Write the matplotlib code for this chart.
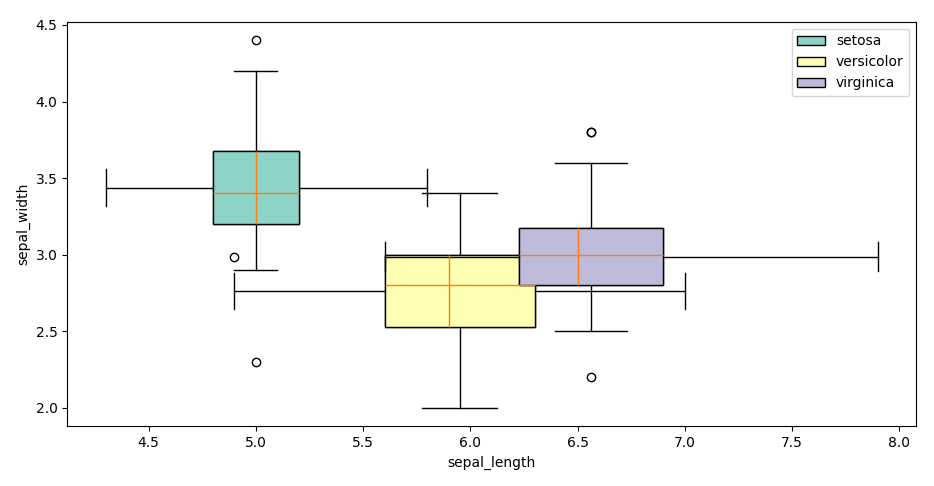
import matplotlib
matplotlib.use("Agg")
import matplotlib.pyplot as plt
from matplotlib.patches import Patch

# iris summary statistics per species
species = ['setosa', 'versicolor', 'virginica']
colors = ['#8dd3c7', '#ffffb3', '#bebada']

# sepal_length (x direction)
len_q1 = [4.8, 5.6, 6.225]
len_med = [5.0, 5.9, 6.5]
len_q3 = [5.2, 6.3, 6.9]
len_lo = [4.3, 4.9, 5.6]
len_hi = [5.8, 7.0, 7.9]
len_fliers = [[], [], [4.9]]

# sepal_width (y direction)
wid_q1 = [3.2, 2.525, 2.8]
wid_med = [3.4, 2.8, 3.0]
wid_q3 = [3.675, 3.0, 3.175]
wid_lo = [2.9, 2.0, 2.5]
wid_hi = [4.2, 3.4, 3.6]
wid_fliers = [[4.4, 2.3], [], [2.2, 3.8, 3.8]]

fig, ax = plt.subplots(figsize=(9.34, 4.86), dpi=100)
fig.subplots_adjust(left=0.072, right=0.981, top=0.955, bottom=0.123)

for i, name in enumerate(species):
    # box centre = middle of each IQR
    xc = (len_q1[i] + len_q3[i]) / 2
    yc = (wid_q1[i] + wid_q3[i]) / 2

    # vertical box: sepal_width
    ystats = [dict(q1=wid_q1[i], med=wid_med[i], q3=wid_q3[i],
                   whislo=wid_lo[i], whishi=wid_hi[i], fliers=wid_fliers[i])]
    ax.bxp(ystats, positions=[xc], widths=[len_q3[i] - len_q1[i]],
           patch_artist=True, manage_ticks=False,
           boxprops=dict(facecolor=colors[i], edgecolor='k'))

    # horizontal box: sepal_length
    xstats = [dict(q1=len_q1[i], med=len_med[i], q3=len_q3[i],
                   whislo=len_lo[i], whishi=len_hi[i], fliers=len_fliers[i])]
    ax.bxp(xstats, positions=[yc], widths=[wid_q3[i] - wid_q1[i]],
           orientation='horizontal', patch_artist=True, manage_ticks=False,
           boxprops=dict(facecolor=colors[i], edgecolor='k'))

ax.autoscale()
handles = [Patch(facecolor=c, edgecolor='k', label=s) for s, c in zip(species, colors)]
ax.legend(handles=handles, loc='upper right')
ax.set_xlabel('sepal_length')
ax.set_ylabel('sepal_width')

fig.savefig('out.png')
